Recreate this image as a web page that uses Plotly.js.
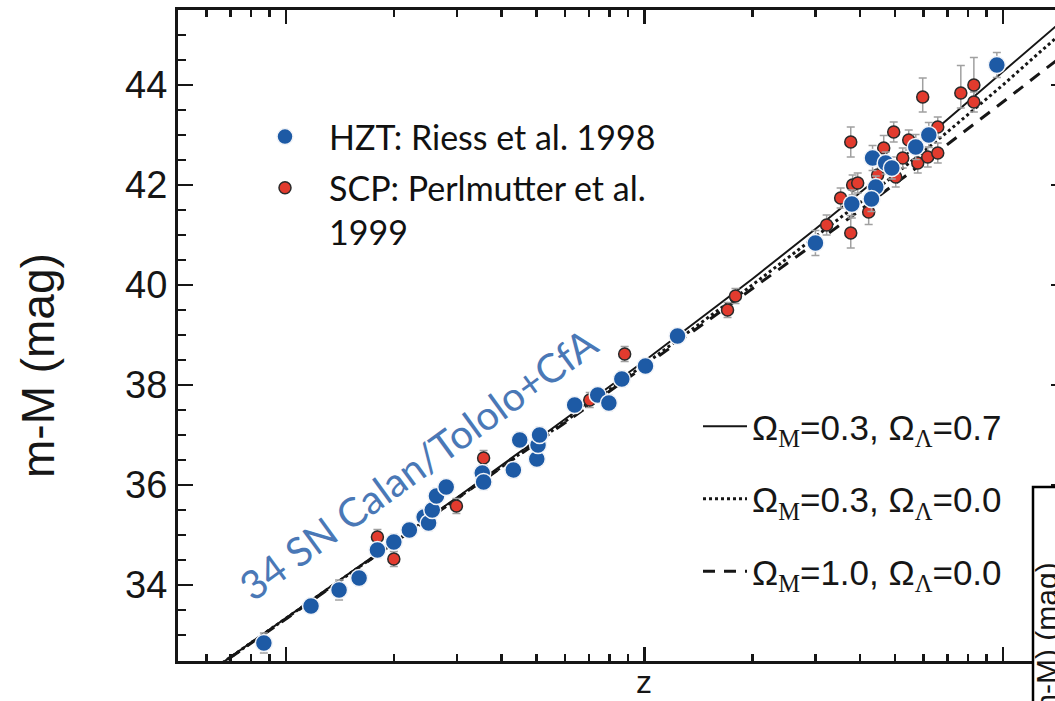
<!DOCTYPE html>
<html><head><meta charset="utf-8">
<script src="https://cdn.plot.ly/plotly-3.0.1.min.js"></script>
<style>html,body{margin:0;padding:0;overflow:hidden;background:#fff}#chart{width:1070px;height:701px}</style>
</head><body><div id="chart"></div>
<script>
// HZT (Riess et al. 1998) + Calan/Tololo/CfA low-z points
const hztZ  = [0.00868,0.01175,0.01407,0.0160,0.0180,0.0200,0.0221,0.0243,0.0250,0.0256,0.0263,0.0280,0.0353,0.0356,0.0431,0.0449,0.0501,0.0505,0.0510,0.0639,0.0741,0.0796,0.0865,0.1007,0.1237,0.300,0.379,0.433,0.442,0.430,0.471,0.490,0.5715,0.6214,0.962];
const hztMu = [32.84,33.58,33.90,34.14,34.70,34.86,35.10,35.36,35.24,35.50,35.78,35.96,36.24,36.06,36.30,36.90,36.52,36.80,37.00,37.60,37.80,37.64,38.12,38.38,38.98,40.84,41.62,42.54,41.96,41.72,42.44,42.34,42.76,43.00,44.40];
const hztErr= [0.2,0.12,0.2,0.15,0.15,0.15,0.12,0.15,0.15,0.15,0.15,0.12,0.15,0.15,0.15,0.15,0.15,0.15,0.15,0.12,0.12,0.15,0.15,0.12,0.12,0.25,0.28,0.25,0.22,0.25,0.22,0.22,0.25,0.25,0.25];
// SCP (Perlmutter et al. 1999)
const scpZ  = [0.0180,0.0200,0.0299,0.0356,0.0704,0.0881,0.1706,0.1795,0.3224,0.3527,0.3764,0.3764,0.381,0.3936,0.4223,0.4473,0.4652,0.4960,0.5025,0.5256,0.5462,0.5788,0.5976,0.6171,0.6582,0.6582,0.7633,0.830,0.830];
const scpMu = [34.96,34.52,35.58,36.54,37.70,38.62,39.50,39.78,41.20,41.74,42.86,41.04,42.00,42.04,41.46,42.20,42.74,43.06,42.16,42.54,42.90,42.44,43.76,42.56,42.64,43.16,43.84,44.00,43.66];
const scpErrUp = [0.15,0.15,0.15,0.15,0.15,0.15,0.15,0.15,0.2,0.2,0.3,0.35,0.2,0.2,0.25,0.2,0.25,0.2,0.2,0.2,0.2,0.2,0.38,0.2,0.2,0.2,0.55,0.55,0.2];
const scpErrDn = [0.15,0.15,0.15,0.15,0.15,0.15,0.15,0.15,0.2,0.2,0.3,0.3,0.2,0.2,0.25,0.2,0.25,0.2,0.2,0.2,0.2,0.2,0.3,0.2,0.2,0.2,0.3,0.3,0.2];
// model curves
const modelZ = [0.005,0.01,0.02,0.03,0.05,0.1,0.2,0.3,0.4,0.5,0.7,1.0,1.2,1.5];
const muLCDM = [31.82,33.34,34.86,35.75,36.90,38.48,40.12,41.12,41.85,42.42,43.31,44.26,44.75,45.35];
const muOpen = [31.82,33.33,34.84,35.73,36.86,38.41,40.00,40.96,41.65,42.21,43.06,44.00,44.50,45.12];
const muEdS  = [31.82,33.32,34.84,35.72,36.84,38.37,39.92,40.84,41.50,42.02,42.81,43.66,44.10,44.64];
// ticks
const xMajor = [0.01,0.1,1];
const xMinor = [0.006,0.007,0.008,0.009,0.02,0.03,0.04,0.05,0.06,0.07,0.08,0.09,0.2,0.3,0.4,0.5,0.6,0.7,0.8,0.9];
const yTicks = [34,36,38,40,42,44];

const L = 178, T = 10, W = 888, H = 651;
const px = v => (v - L) / W, py = v => (T + H - v) / H;

const ink = '#161616';
const sub = s => '<sub><span style="font-family:Liberation Serif">' + s + '</span></sub>';
const traces = [
  {x:modelZ, y:muLCDM, mode:'lines', line:{color:ink,width:2}, name:'Ω'+sub('M')+'=0.3, Ω'+sub('Λ')+'=0.7', legend:'legend2', legendgroup:'a', hoverinfo:'skip'},
  {x:modelZ, y:muOpen, mode:'lines', line:{color:ink,width:3,dash:'3px,3px'}, name:'Ω'+sub('M')+'=0.3, Ω'+sub('Λ')+'=0.0', legend:'legend2', legendgroup:'b', hoverinfo:'skip'},
  {x:modelZ, y:muEdS, mode:'lines', line:{color:ink,width:3,dash:'12px,9px'}, name:'Ω'+sub('M')+'=1.0, Ω'+sub('Λ')+'=0.0', legend:'legend2', legendgroup:'c', hoverinfo:'skip'},
  {x:scpZ, y:scpMu, mode:'markers', name:'SCP: Perlmutter et al.<br>1999', legendrank:2, legendgroup:'r',
   marker:{color:'#e23b2e', size:12, line:{color:'#2a2a2a', width:1.5}},
   error_y:{type:'data', symmetric:false, array:scpErrUp, arrayminus:scpErrDn, color:'#a0a0a0', thickness:1.5, width:4}},
  {x:hztZ, y:hztMu, mode:'markers', name:'HZT: Riess et al. 1998', legendrank:1, legendgroup:'h',
   marker:{color:'#1d5aa5', size:17, line:{color:'#f2f4f8', width:1.5}},
   error_y:{type:'data', array:hztErr, color:'#a0a0a0', thickness:1.5, width:4}}
];

const axisCommon = {showline:true, linewidth:3, linecolor:ink, mirror:'ticks', ticks:'inside', tickcolor:ink, tickwidth:2.5, showgrid:false, zeroline:false};

const layout = {
  width:1070, height:701,
  margin:{l:L, r:1070-L-W, t:T, b:701-T-H},
  paper_bgcolor:'#fff', plot_bgcolor:'#fff',
  font:{family:'Liberation Sans, Arial, sans-serif', color:ink},
  showlegend:true,
  xaxis:Object.assign({}, axisCommon, {type:'log', range:[Math.log10(0.005), Math.log10(1.5)], tickvals:xMajor, ticklen:14, showticklabels:false,
     minor:{tickvals:xMinor, ticks:'inside', ticklen:7, tickwidth:2.5, tickcolor:ink, showgrid:false}}),
  yaxis:Object.assign({}, axisCommon, {range:[32.48,45.5], tickvals:yTicks, ticklen:15, tickfont:{size:38, color:ink},
     minor:{dtick:0.5, ticks:'inside', ticklen:8, tickwidth:2.5, tickcolor:ink, showgrid:false}}),
  legend:{x:px(241), y:py(108), xanchor:'left', yanchor:'top', bgcolor:'rgba(0,0,0,0)', borderwidth:0,
     font:{family:'Lato, sans-serif', size:34, color:'#111'}, itemwidth:78, valign:'top', traceorder:'grouped', tracegroupgap:4},
  legend2:{x:px(698), y:py(397), xanchor:'left', yanchor:'top', bgcolor:'rgba(0,0,0,0)', borderwidth:0,
     font:{family:'Liberation Sans, Arial, sans-serif', size:35, color:ink}, itemwidth:44, traceorder:'grouped', tracegroupgap:24},
  annotations:[
    {xref:'paper', yref:'paper', x:px(418), y:py(464), xanchor:'center', yanchor:'middle', text:'34 SN Calan/Tololo+CfA', showarrow:false, textangle:-36,
     font:{family:'Lato, sans-serif', size:40, color:'#4a78b6'}},
    {xref:'x', yref:'paper', x:-1, y:py(682), xanchor:'center', yanchor:'middle', text:'z', showarrow:false, font:{size:32, color:ink}},
    {xref:'paper', yref:'paper', x:px(38), y:py(366), xanchor:'center', yanchor:'middle', text:'m-M (mag)', showarrow:false, textangle:-90, font:{size:46, color:ink}},
    {xref:'paper', yref:'paper', x:px(1046), y:py(656), xanchor:'center', yanchor:'middle', text:'Δ(m-M) (mag)', showarrow:false, textangle:-90, font:{size:30, color:ink}}
  ],
  shapes:[
    {type:'rect', xref:'paper', yref:'paper', x0:px(1033), x1:px(1100), y0:py(760), y1:py(487), fillcolor:'#fff', line:{color:'#000', width:2.5}, layer:'above'}
  ]
};

Plotly.newPlot('chart', traces, layout, {displayModeBar:false, staticPlot:true});
</script>
</body></html>
